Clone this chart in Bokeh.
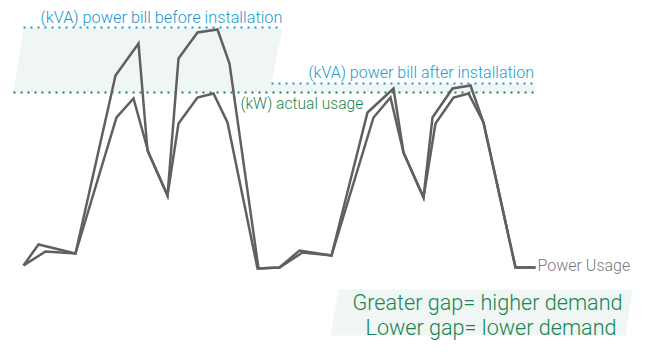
from bokeh.plotting import figure
from bokeh.embed import file_html
from bokeh.resources import INLINE
from bokeh.core.properties import value

# ---- data (x: time position, y: power level) ----
kva_x = [23, 38, 75, 115, 138, 147, 167, 178, 197, 217, 229, 258, 279, 299, 331,
         367, 393, 403, 423, 432, 452, 470, 483, 515, 535]
kva_y = [89, 110, 101, 279, 311, 204, 159, 296, 322, 325, 291, 86, 87, 104, 99,
         242, 266, 202, 157, 237, 266, 269, 232, 87, 87]

kw_x = [23, 45, 75, 116, 133, 148, 167, 178, 197, 213, 227, 257, 279, 302, 331,
        373, 390, 403, 423, 435, 453, 468, 483, 515, 535]
kw_y = [89, 103, 101, 237, 256, 202, 159, 231, 257, 261, 232, 86, 87, 102, 99,
        237, 257, 202, 157, 231, 257, 261, 232, 87, 87]

kva_before_level = 327
kva_after_level = 271
kw_level = 262

label_before = "(kVA) power bill before installation"
label_after = "(kVA) power bill after installation"
label_kw = "(kW) actual usage"
label_series = "Power Usage"
note_lines = ["Greater gap= higher demand", "Lower gap= lower demand"]

BLUE = "#2398cf"
GREEN = "#178552"
MINT = "#eff6f3"
LINE = "#606060"
FONT = "'Roboto Light', 'Lato Light', sans-serif"

p = figure(width=646, height=354, x_range=(0, 646), y_range=(0, 354),
           output_backend="svg", toolbar_location=None, min_border=0,
           outline_line_color=None, background_fill_color="white",
           border_fill_color="white")
p.axis.visible = False
p.grid.visible = False

# shaded band between before-level and kW level
band_x = [23, 282, 271, 535, 535, 13]
band_y = [kva_before_level, kva_before_level, kva_after_level, kva_after_level,
          kw_level, kw_level]
p.patch(band_x, band_y, fill_color=MINT, line_color=None)

# note box
p.patch([338, 632, 625, 330], [65, 65, 19, 19], fill_color=MINT, line_color=None)

# dotted level lines
p.line([23, 282], [kva_before_level] * 2, line_color=BLUE, line_width=2,
       line_dash="2 5")
p.line([271, 535], [kva_after_level] * 2, line_color=BLUE, line_width=2,
       line_dash="2 5")
p.line([13, 535], [kw_level] * 2, line_color=GREEN, line_width=2,
       line_dash="2 5")

# series
p.line(kva_x, kva_y, line_color=LINE, line_width=2.5, line_join="miter")
p.line(kw_x, kw_y, line_color=LINE, line_width=2.5, line_join="miter")

# labels
p.text(x=[40], y=[337], text=[label_before], text_color=BLUE,
       text_font=value(FONT), text_font_size="16.3px", text_baseline="middle")
p.text(x=[308], y=[282], text=[label_after], text_color=BLUE,
       text_font=value(FONT), text_font_size="16px", text_baseline="middle")
p.text(x=[240], y=[251], text=[label_kw], text_color=GREEN,
       text_font=value(FONT), text_font_size="15.6px", text_baseline="middle")
p.text(x=[537], y=[89], text=[label_series], text_color="#7a7a7a",
       text_font=value(FONT), text_font_size="16px", text_baseline="middle")
p.text(x=[622, 616], y=[52, 27], text=note_lines, text_color=GREEN,
       text_font=value(FONT), text_font_size="21.6px", text_baseline="middle",
       text_align="right")

open("out.html", "w").write(file_html(p, INLINE))
